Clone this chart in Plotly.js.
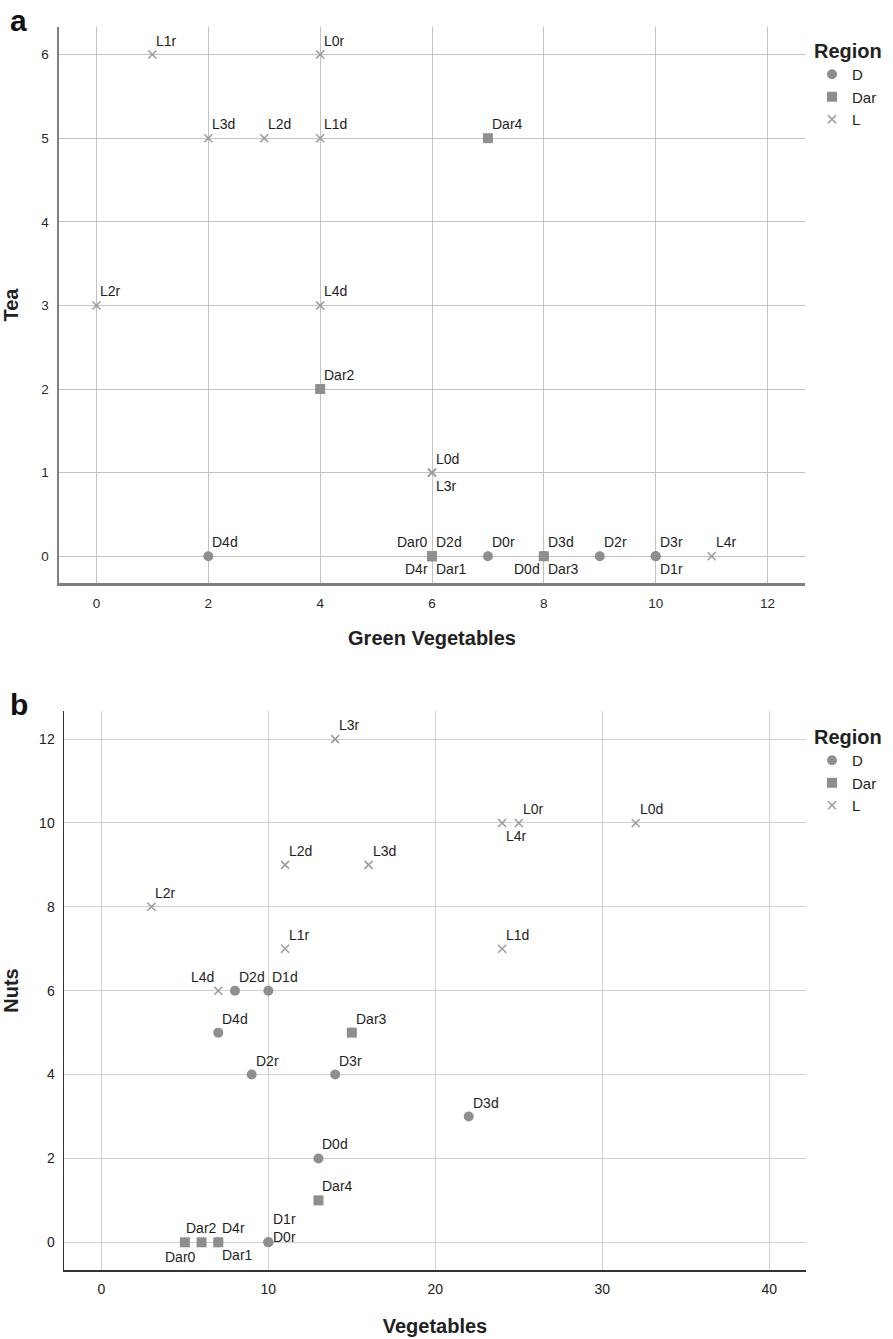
<!DOCTYPE html>
<html>
<head>
<meta charset="utf-8">
<script src="https://cdn.plot.ly/plotly-3.0.1.min.js"></script>
<style>html,body{margin:0;padding:0;background:#fff;}#chart{width:893px;height:1339px;}</style>
</head>
<body>
<div id="chart"></div>
<script>
// ---------- Panel a: Green Vegetables vs Tea ----------
const regions = ['D', 'Dar', 'L'];

const aD_names = ['D4d', 'D2d', 'D4r', 'D0r', 'D0d', 'D3d', 'D2r', 'D3r', 'D1r'];
const aD_x = [2, 6, 6, 7, 8, 8, 9, 10, 10];
const aD_y = [0, 0, 0, 0, 0, 0, 0, 0, 0];

const aDar_names = ['Dar4', 'Dar2', 'Dar0', 'Dar1', 'Dar3'];
const aDar_x = [7, 4, 6, 6, 8];
const aDar_y = [5, 2, 0, 0, 0];

const aL_names = ['L1r', 'L0r', 'L3d', 'L2d', 'L1d', 'L2r', 'L4d', 'L0d', 'L3r', 'L4r'];
const aL_x = [1, 4, 2, 3, 4, 0, 4, 6, 6, 11];
const aL_y = [6, 6, 5, 5, 5, 3, 3, 1, 1, 0];

// ---------- Panel b: Vegetables vs Nuts ----------
const bD_names = ['D2d', 'D1d', 'D4d', 'D2r', 'D3r', 'D3d', 'D0d', 'D1r', 'D0r', 'D4r'];
const bD_x = [8, 10, 7, 9, 14, 22, 13, 10, 10, 7];
const bD_y = [6, 6, 5, 4, 4, 3, 2, 0, 0, 0];

const bDar_names = ['Dar3', 'Dar4', 'Dar0', 'Dar2', 'Dar1'];
const bDar_x = [15, 13, 5, 6, 7];
const bDar_y = [5, 1, 0, 0, 0];

const bL_names = ['L3r', 'L0r', 'L4r', 'L0d', 'L2d', 'L3d', 'L2r', 'L1r', 'L1d', 'L4d'];
const bL_x = [14, 25, 24, 32, 11, 16, 3, 11, 24, 7];
const bL_y = [12, 10, 10, 10, 9, 9, 8, 7, 7, 6];

// Tick values
const aXticks = [0, 2, 4, 6, 8, 10, 12];
const aYticks = [0, 1, 2, 3, 4, 5, 6];
const bXticks = [0, 10, 20, 30, 40];
const bYticks = [0, 2, 4, 6, 8, 10, 12];

// ---------- Label placement styles (not data) ----------
const aD_pos = ['ur', 'ur', 'll', 'ur', 'll', 'ur', 'ur', 'ur', 'lr'];
const aDar_pos = ['ur', 'ur', 'ul', 'lr', 'lr'];
const aL_pos = ['ur', 'ur', 'ur', 'ur', 'ur', 'ur', 'ur', 'ur', 'lr', 'ur'];
const bD_pos = ['ur', 'ur', 'ur', 'ur', 'ur', 'ur', 'ur', 'r2', 'r', 'ur'];
const bDar_pos = ['ur', 'ur', 'bc', 'tc', 'lr'];
const bL_pos = ['ur', 'ur', 'lr', 'ur', 'ur', 'ur', 'ur', 'ur', 'ur', 'ul'];

const PLACE = {
  ur: {xanchor: 'left', xshift: 2, yshift: 14},
  ul: {xanchor: 'right', xshift: -2, yshift: 14},
  lr: {xanchor: 'left', xshift: 2, yshift: -13},
  ll: {xanchor: 'right', xshift: -2, yshift: -13},
  r: {xanchor: 'left', xshift: 3, yshift: 5},
  r2: {xanchor: 'left', xshift: 3, yshift: 23},
  tc: {xanchor: 'center', xshift: 0, yshift: 14},
  bc: {xanchor: 'center', xshift: -4, yshift: -15}
};

const FONT = '"Liberation Sans", Arial, Helvetica, sans-serif';
const NARROW = '"Liberation Sans Narrow", "Liberation Sans", Arial, sans-serif';
const markerColor = '#8e8e8e';
const xColor = '#9a9a9a';

function mk(region, x, y, xa, ya, legendName, showlegend) {
  const base = {type: 'scatter', mode: 'markers', x: x, y: y, xaxis: xa, yaxis: ya,
    name: region, legend: legendName, showlegend: showlegend, hoverinfo: 'skip', cliponaxis: false};
  if (region === 'D') base.marker = {symbol: 'circle', size: 10, color: markerColor};
  else if (region === 'Dar') base.marker = {symbol: 'square', size: 10, color: markerColor};
  else base.marker = {symbol: 'x-thin', size: 8, color: xColor, line: {color: xColor, width: 1.5}};
  return base;
}

const data = [
  mk('D', aD_x, aD_y, 'x', 'y', 'legend', true),
  mk('Dar', aDar_x, aDar_y, 'x', 'y', 'legend', true),
  mk('L', aL_x, aL_y, 'x', 'y', 'legend', true),
  mk('D', bD_x, bD_y, 'x2', 'y2', 'legend2', true),
  mk('Dar', bDar_x, bDar_y, 'x2', 'y2', 'legend2', true),
  mk('L', bL_x, bL_y, 'x2', 'y2', 'legend2', true)
];

const annotations = [];
function addLabels(names, xs, ys, pos, xref, yref) {
  names.forEach((n, i) => {
    const p = PLACE[pos[i]];
    annotations.push({text: n, x: xs[i], y: ys[i], xref: xref, yref: yref, showarrow: false,
      xanchor: p.xanchor, yanchor: 'middle', xshift: p.xshift, yshift: p.yshift,
      font: {family: FONT, size: 14, color: '#1e1e1e'}});
  });
}
addLabels(aD_names, aD_x, aD_y, aD_pos, 'x', 'y');
addLabels(aDar_names, aDar_x, aDar_y, aDar_pos, 'x', 'y');
addLabels(aL_names, aL_x, aL_y, aL_pos, 'x', 'y');
addLabels(bD_names, bD_x, bD_y, bD_pos, 'x2', 'y2');
addLabels(bDar_names, bDar_x, bDar_y, bDar_pos, 'x2', 'y2');
addLabels(bL_names, bL_x, bL_y, bL_pos, 'x2', 'y2');

// Panel letters
annotations.push({text: '<b>a</b>', xref: 'paper', yref: 'paper', x: 8/893, y: 1 - 2/1339,
  xanchor: 'left', yanchor: 'top', showarrow: false, font: {family: FONT, size: 30, color: '#111'}});
annotations.push({text: '<b>b</b>', xref: 'paper', yref: 'paper', x: 8/893, y: 1 - 686/1339,
  xanchor: 'left', yanchor: 'top', showarrow: false, font: {family: FONT, size: 30, color: '#111'}});

const W = 893, H = 1339;
function dx(px) { return px / W; }
function dy(px) { return 1 - px / H; }

const gridA = '#c2c2c2';
const gridB = '#d0d0d0';

const layout = {
  width: W, height: H,
  margin: {l: 0, r: 0, t: 0, b: 0},
  paper_bgcolor: '#fff', plot_bgcolor: '#fff',
  font: {family: FONT, color: '#222'},
  xaxis: {domain: [dx(59), dx(805)], anchor: 'y', range: [-0.67, 12.67], tickvals: aXticks,
    showgrid: true, gridcolor: gridA, gridwidth: 1, zeroline: false,
    showline: true, linecolor: '#808080', linewidth: 2.5, ticks: 'outside', ticklen: 6, tickcolor: 'rgba(0,0,0,0)',
    tickfont: {family: FONT, size: 13.5, color: '#2a2a2a'},
    title: {text: '<b>Green Vegetables</b>', font: {family: FONT, size: 20, color: '#222'}, standoff: 22}},
  yaxis: {domain: [dy(583), dy(27)], anchor: 'x', range: [-0.32, 6.33], tickvals: aYticks,
    showgrid: true, gridcolor: gridA, gridwidth: 1, zeroline: false,
    showline: true, linecolor: '#808080', linewidth: 2.5, ticks: 'outside', ticklen: 5, tickcolor: 'rgba(0,0,0,0)',
    tickfont: {family: FONT, size: 13.5, color: '#2a2a2a'},
    title: {text: '<b>Tea</b>', font: {family: FONT, size: 20, color: '#222'}, standoff: 20}},
  xaxis2: {domain: [dx(64), dx(806)], anchor: 'y2', range: [-2.24, 42.2], tickvals: bXticks,
    showgrid: true, gridcolor: gridB, gridwidth: 1, zeroline: false,
    showline: true, linecolor: '#333', linewidth: 1.5, ticks: 'outside', ticklen: 6, tickcolor: 'rgba(0,0,0,0)',
    tickfont: {family: NARROW, size: 14, color: '#222'},
    title: {text: '<b>Vegetables</b>', font: {family: FONT, size: 20, color: '#222'}, standoff: 22}},
  yaxis2: {domain: [dy(1270), dy(711)], anchor: 'x2', range: [-0.66, 12.67], tickvals: bYticks,
    showgrid: true, gridcolor: gridB, gridwidth: 1, zeroline: false,
    showline: true, linecolor: '#333', linewidth: 1.5, ticks: 'outside', ticklen: 5, tickcolor: 'rgba(0,0,0,0)',
    tickfont: {family: NARROW, size: 14, color: '#222'},
    title: {text: '<b>Nuts</b>', font: {family: FONT, size: 20, color: '#222'}, standoff: 22}},
  legend: {x: dx(812), y: dy(32), xanchor: 'left', yanchor: 'top', bgcolor: 'rgba(0,0,0,0)',
    title: {text: '<b>Region</b>', font: {family: FONT, size: 20, color: '#222'}, side: 'top'},
    font: {family: FONT, size: 15, color: '#222'}, itemwidth: 30, tracegroupgap: 0, traceorder: 'normal'},
  legend2: {x: dx(812), y: dy(718), xanchor: 'left', yanchor: 'top', bgcolor: 'rgba(0,0,0,0)',
    title: {text: '<b>Region</b>', font: {family: FONT, size: 20, color: '#222'}, side: 'top'},
    font: {family: FONT, size: 15, color: '#222'}, itemwidth: 30, tracegroupgap: 0, traceorder: 'normal'},
  annotations: annotations
};

Plotly.newPlot('chart', data, layout, {displayModeBar: false, staticPlot: true});
</script>
</body>
</html>
